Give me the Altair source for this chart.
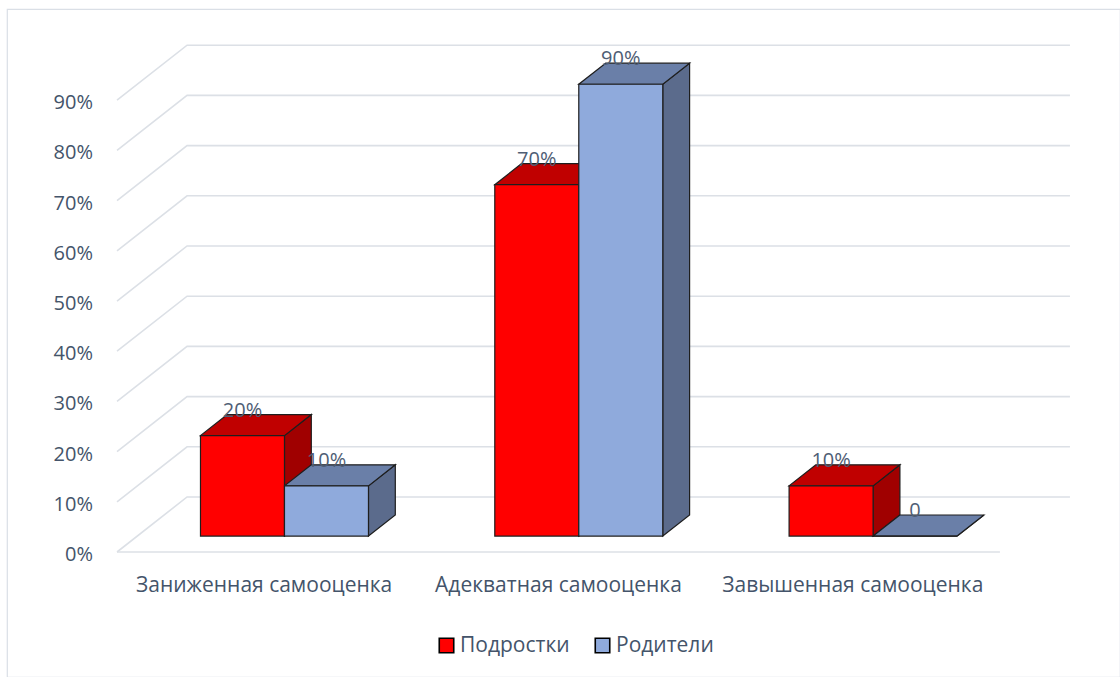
import altair as alt
import pandas as pd

# ---- chart values -------------------------------------------------------
categories = ["Заниженная самооценка", "Адекватная самооценка", "Завышенная самооценка"]
series = ["Подростки", "Родители"]
teens = [20, 70, 10]
parents = [10, 90, 0]
y_ticks = [0, 10, 20, 30, 40, 50, 60, 70, 80, 90]

# ---- styling ------------------------------------------------------------
front_colors = ["#FF0000", "#8FAADC"]
top_colors = ["#C00000", "#6A7FA8"]
side_colors = ["#A00000", "#5B6B8C"]
TEXT = "#44546A"
LABEL = "#4F5E75"
GRID = "#DCE0E6"
EDGE = "#1E1E1E"
FONT = "Open Sans"

# oblique 3-D projection: depth z in [0, 1] moves a point DX slots right
# and DY percentage points up
DX = 0.238
DY = 10.96
Z_FRONT = 0.29
Z_BACK = 0.673
BAR_W = 0.2854

# plot frame in data units (one category slot = 1, y in percent)
X_DOM = [-0.3738, 3.408]
Y_DOM = [-24.9, 108.17]

xs = alt.Scale(domain=X_DOM, nice=False, zero=False)
ys = alt.Scale(domain=Y_DOM, nice=False, zero=False)

# ---- geometry tables ----------------------------------------------------
front, side, top, labels = [], [], [], []
for s_idx, (name, vals) in enumerate(zip(series, [teens, parents])):
    for c_idx, v in enumerate(vals):
        left = c_idx + 0.5 - BAR_W + s_idx * BAR_W
        right = left + BAR_W
        bar = f"{s_idx}-{c_idx}"
        front.append(dict(series=name, bar=bar,
                          x=left + Z_FRONT * DX, x2=right + Z_FRONT * DX,
                          y=Z_FRONT * DY, y2=v + Z_FRONT * DY))
        for z in (Z_FRONT, Z_BACK):
            side.append(dict(bar=bar, shade=side_colors[s_idx],
                             x=right + z * DX, y=z * DY, y2=v + z * DY))
            top.append(dict(bar=bar, shade=top_colors[s_idx],
                            x=left + z * DX, x2=right + z * DX, y=v + z * DY))
        labels.append(dict(x=(left + right) / 2 + Z_FRONT * DX,
                           y=v + Z_BACK * DY,
                           text=f"{v}%" if v else "0"))

n_cat = len(categories)
grid = []
for v in y_ticks:
    for k, (gx, gy) in enumerate([(0, v), (DX, v + DY), (n_cat + DX, v + DY)]):
        grid.append(dict(gid=f"g{v}", k=k, x=gx, y=gy))
grid.append(dict(gid="floor", k=0, x=0, y=0))
grid.append(dict(gid="floor", k=1, x=n_cat, y=0))

tick_df = pd.DataFrame(dict(x=[0] * len(y_ticks), y=y_ticks,
                            text=[f"{v}%" for v in y_ticks]))
cat_df = pd.DataFrame(dict(x=[i + 0.5 for i in range(n_cat)], y=[0] * n_cat,
                           text=categories))

X = lambda f="x:Q": alt.X(f, scale=xs, axis=None)
Y = lambda f="y:Q": alt.Y(f, scale=ys, axis=None)

grid_layer = alt.Chart(pd.DataFrame(grid)).mark_line(
    color=GRID, strokeWidth=1.6
).encode(x=X(), y=Y(), detail="gid:N", order=alt.Order("k:Q"))

side_layer = alt.Chart(pd.DataFrame(side)).mark_area(
    stroke=EDGE, strokeWidth=1.2, opacity=1
).encode(x=X(), y=Y(), y2="y2:Q", detail="bar:N",
         fill=alt.Fill("shade:N", scale=None))

top_layer = alt.Chart(pd.DataFrame(top)).mark_area(
    orient="horizontal", stroke=EDGE, strokeWidth=1.2, opacity=1
).encode(x=X(), x2="x2:Q", y=Y(), detail="bar:N",
         fill=alt.Fill("shade:N", scale=None))

front_layer = alt.Chart(pd.DataFrame(front)).mark_rect(
    stroke=EDGE, strokeWidth=1.2, opacity=1
).encode(
    x=X(), x2="x2:Q", y=Y(), y2="y2:Q",
    color=alt.Color(
        "series:N",
        scale=alt.Scale(domain=series, range=front_colors),
        legend=alt.Legend(
            title=None, orient="none", direction="horizontal",
            legendX=429, legendY=626, padding=0,
            symbolType="square", symbolSize=210,
            symbolStrokeColor="black", symbolStrokeWidth=1.6,
            labelFont=FONT, labelFontSize=21, labelColor=TEXT,
            labelOffset=3, columnPadding=22,
        ),
    ),
)

value_labels = alt.Chart(pd.DataFrame(labels)).mark_text(
    font=FONT, fontSize=20, color=LABEL, align="center",
    baseline="alphabetic", dy=2
).encode(x=X(), y=Y(), text="text:N")

tick_labels = alt.Chart(tick_df).mark_text(
    font=FONT, fontSize=20, color=TEXT, align="right",
    baseline="alphabetic", dx=-24, dy=9
).encode(x=X(), y=Y(), text="text:N")

cat_labels = alt.Chart(cat_df).mark_text(
    font=FONT, fontSize=21, color=TEXT, align="center",
    baseline="alphabetic", dy=40
).encode(x=X(), y=Y(), text="text:N")

chart = alt.layer(
    grid_layer, side_layer, top_layer, front_layer,
    value_labels, tick_labels, cat_labels
).properties(
    width=1113, height=668,
    padding={"left": 7, "top": 9, "right": 0, "bottom": 0},
    autosize=alt.AutoSizeParams(type="none"),
    background="white",
).configure_view(stroke="#DADFE6", strokeWidth=1.2)

chart.save("out.html", embed_options={"renderer": "svg", "actions": False})
